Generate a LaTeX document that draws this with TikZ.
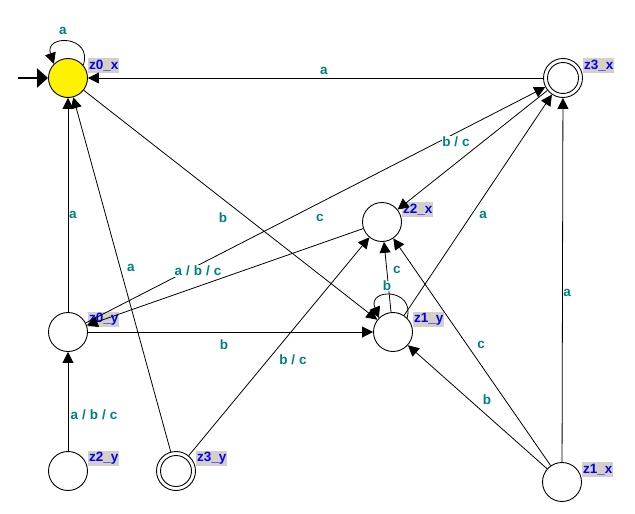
\documentclass[tikz,border=0pt]{standalone}
\usepackage{fontspec}
\setmainfont{Liberation Sans}
\usetikzlibrary{arrows.meta}
\definecolor{lbl}{HTML}{008080}
\definecolor{nbox}{HTML}{D4D0C8}
\definecolor{nblue}{HTML}{0000FF}
\newcommand\ssep{\hspace{4pt}/\hspace{4pt}}
\tikzset{
 state/.style={circle,draw,line width=0.9pt,minimum size=39pt,inner sep=0pt,fill=white},
 tag/.style={fill=nbox,text=nblue,font=\bfseries\fontsize{13.5}{13.5}\selectfont,inner sep=0pt,minimum width=31pt,minimum height=15pt,anchor=south west},
 edge/.style={line width=0.8pt,-{Triangle[length=11pt,width=11pt]}},
 elbl/.style={text=lbl,font=\bfseries\fontsize{13.5}{13.5}\selectfont,fill=white,inner sep=0.5pt},
}
\begin{document}
\begin{tikzpicture}[x=1pt,y=-1pt]
\useasboundingbox (0,0) rectangle (635,514);
% states
\node[state,fill=yellow] (z0x) at (68,78) {};
\node[state] (z3x) at (563,78) {};
\draw[line width=0.9pt] (z3x.center) circle[radius=15.5pt];
\node[state] (z2x) at (382,222) {};
\node[state] (z0y) at (68,332) {};
\node[state] (z1y) at (393,332) {};
\node[state] (z2y) at (68,471) {};
\node[state] (z3y) at (176,471) {};
\draw[line width=0.9pt] (z3y.center) circle[radius=15.5pt];
\node[state] (z1x) at (562,482) {};
\coordinate (init) at (18,78);
% tags
\node[tag] (t0x) at (88,73) {z0\_x};
\node[tag] (t3x) at (583,73) {z3\_x};
\node[tag] (t2x) at (402,217) {z2\_x};
\node[tag] (t0y) at (88,327) {z0\_y};
\node[tag] (t1y) at (413,327) {z1\_y};
\node[tag] (t2y) at (88,466) {z2\_y};
\node[tag] (t3y) at (196,466) {z3\_y};
\node[tag] (t1x) at (582,477) {z1\_x};
% edges
\draw[line width=2.3pt,-{Triangle[length=11pt,width=19pt]}] (init) -- (z0x);
\draw[edge] (z0x.40) .. controls +(10,-30) and +(-10,-30) .. (z0x.135);
\draw[edge] (z3x) -- (z0x);
\draw[edge] (z0y) -- (z0x);
\draw[edge] (z3y) -- (z0x);
\draw[edge] (z0x) -- (z1y);
\draw[edge] (z0y) -- (z3x);
\draw[edge] (z2x) -- (z0y);
\draw[edge] (z3x) -- (z2x);
\draw[edge] (z0y) -- (z1y);
\draw[edge] (z1y.45) .. controls +(8,-30) and +(-12,-30) .. (z1y.135);
\draw[edge] (z1y) -- (z2x);
\draw[edge] (z1y) -- (z3x);
\draw[edge] (z2y) -- (z0y);
\draw[edge] (z3y) -- (z2x);
\draw[edge] (z1x) -- (z1y);
\draw[edge] (z1x) -- (z2x);
\draw[edge] (z1x) -- (z3x);
% edge labels
\node[elbl] (l1) at (63,31) {a};
\node[elbl] (l2) at (324,71) {a};
\node[elbl] (l3) at (456,142) {b\ssep c};
\node[elbl] (l4) at (223,218) {b};
\node[elbl] (l5) at (320,218) {c};
\node[elbl] (l6) at (73,215) {a};
\node[elbl] (l7) at (198,271) {a\ssep b\ssep c};
\node[elbl] (l8) at (131,268) {a};
\node[elbl] (l9) at (397,270) {c};
\node[elbl] (l10) at (387,286) {b};
\node[elbl] (l11) at (483,215) {a};
\node[elbl] (l12) at (567,293) {a};
\node[elbl] (l13) at (224,345) {b};
\node[elbl] (l14) at (293,360) {b\ssep c};
\node[elbl] (l15) at (481,345) {c};
\node[elbl] (l16) at (487,400) {b};
\node[elbl] (l17) at (94,415) {a\ssep b\ssep c};
\end{tikzpicture}
\end{document}
